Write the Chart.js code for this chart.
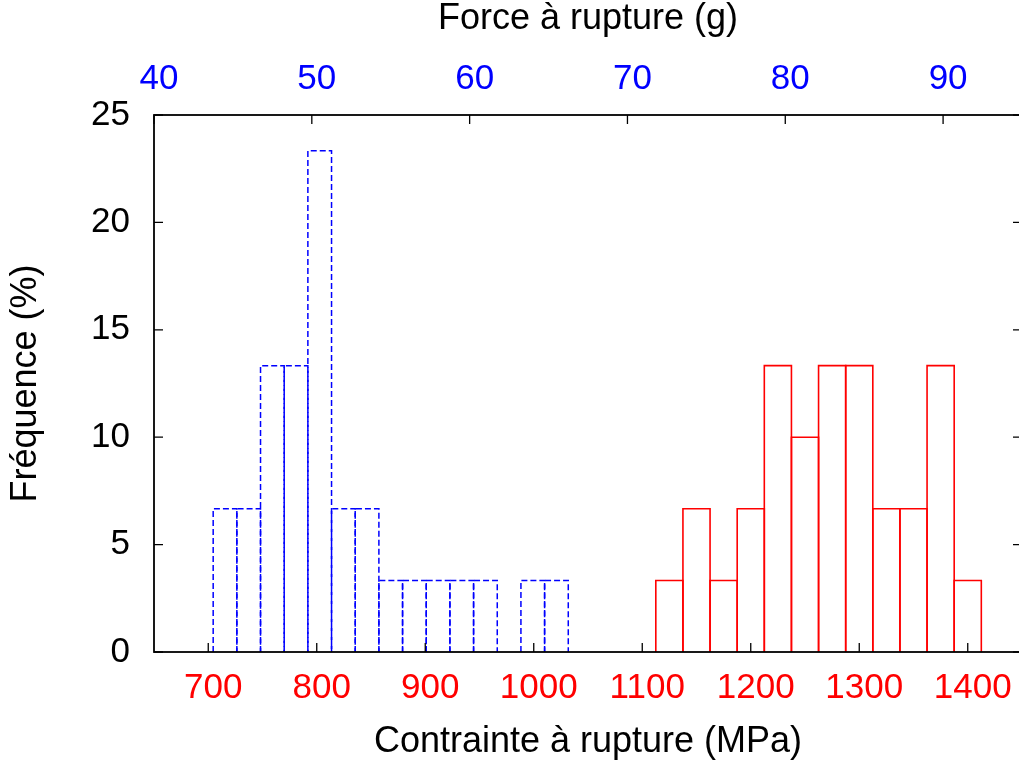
<!DOCTYPE html>
<html>
<head>
<meta charset="utf-8">
<script src="https://cdn.jsdelivr.net/npm/chart.js@4/dist/chart.umd.min.js"></script>
<style>
html,body{margin:0;padding:0;background:#fff;overflow:hidden;width:1019px;height:763px}
canvas{display:block}
</style>
</head>
<body>
<canvas id="c" width="1030" height="763"></canvas>
<script>
// Force à rupture (g) : centres des classes et fréquences (%)
const forceCenters = [44.5, 46, 47.5, 49, 50.5, 52, 53.5, 55, 56.5, 58, 59.5, 61, 62.5, 64, 65.5];
const forceFreq    = [6.67, 6.67, 13.33, 13.33, 23.33, 6.67, 6.67, 3.33, 3.33, 3.33, 3.33, 3.33, 0, 3.33, 3.33];

// Contrainte à rupture (MPa) : centres des classes et fréquences (%)
const stressCenters = [1125, 1150, 1175, 1200, 1225, 1250, 1275, 1300, 1325, 1350, 1375, 1400];
const stressFreq    = [3.33, 6.67, 3.33, 6.67, 13.33, 10, 13.33, 13.33, 6.67, 6.67, 13.33, 3.33];

// Graduations
const stressTickValues = [700, 800, 900, 1000, 1100, 1200, 1300, 1400];
const stressTickLabels = ['700', '800', '900', '1000', '1100', '1200', '1300', '1400'];
const forceTickValues  = [40, 50, 60, 70, 80, 90];
const forceTickLabels  = ['40', '50', '60', '70', '80', '90'];
const freqTickValues   = [0, 5, 10, 15, 20, 25];
const freqTickLabels   = ['0', '5', '10', '15', '20', '25'];

const FONT = "'Liberation Sans', Arial, Helvetica, sans-serif";

const outlinePlugin = {
  id: 'histOutline',
  afterDatasetsDraw(chart) {
    const ctx = chart.ctx;
    chart.data.datasets.forEach((ds, i) => {
      const meta = chart.getDatasetMeta(i);
      ctx.save();
      ctx.strokeStyle = ds.outlineColor;
      ctx.lineWidth = ds.outlineWidth;
      ctx.setLineDash(ds.outlineDash);
      meta.data.forEach((bar, j) => {
        if (!ds.data[j].y) return;
        const p = bar.getProps(['x', 'y', 'base', 'width'], true);
        const l = p.x - p.width / 2, r = p.x + p.width / 2;
        ctx.beginPath();
        ctx.moveTo(l, p.base);
        ctx.lineTo(l, p.y);
        ctx.lineTo(r, p.y);
        ctx.lineTo(r, p.base);
        ctx.stroke();
      });
      ctx.restore();
    });
  }
};

const framePlugin = {
  id: 'frame',
  afterDraw(chart) {
    const {ctx, chartArea: a, scales} = chart;
    const T = 9;
    ctx.save();
    ctx.setLineDash([]);
    ctx.strokeStyle = '#000';
    ctx.lineWidth = 1.3;
    ctx.beginPath();
    scales.y.ticks.forEach(t => {
      const yy = scales.y.getPixelForValue(t.value);
      ctx.moveTo(a.left, yy); ctx.lineTo(a.left + T, yy);
      ctx.moveTo(a.right, yy); ctx.lineTo(a.right - T, yy);
    });
    scales.x.ticks.forEach(t => {
      const xx = scales.x.getPixelForValue(t.value);
      ctx.moveTo(xx, a.bottom); ctx.lineTo(xx, a.bottom - T);
    });
    scales.x2.ticks.forEach(t => {
      const xx = scales.x2.getPixelForValue(t.value);
      ctx.moveTo(xx, a.top); ctx.lineTo(xx, a.top + T);
    });
    ctx.stroke();
    ctx.lineWidth = 1.8;
    ctx.strokeRect(a.left, a.top, a.right - a.left, a.bottom - a.top);
    ctx.restore();
  }
};

const tickFont = {family: FONT, size: 35};
const titleFont = {family: FONT, size: 36, lineHeight: 1.07};

new Chart(document.getElementById('c'), {
  type: 'bar',
  data: {
    datasets: [
      {
        label: 'Force à rupture (g)',
        xAxisID: 'x2', yAxisID: 'y',
        data: forceCenters.map((x, i) => ({x: x, y: forceFreq[i]})),
        backgroundColor: 'rgba(0,0,0,0)', borderWidth: 0,
        grouped: false, barPercentage: 1, categoryPercentage: 1,
        outlineColor: '#0000ff', outlineWidth: 1.5, outlineDash: [6, 3]
      },
      {
        label: 'Contrainte à rupture (MPa)',
        xAxisID: 'x', yAxisID: 'y',
        data: stressCenters.map((x, i) => ({x: x, y: stressFreq[i]})),
        backgroundColor: 'rgba(0,0,0,0)', borderWidth: 0,
        grouped: false, barPercentage: 1, categoryPercentage: 1,
        outlineColor: '#ff0000', outlineWidth: 1.6, outlineDash: []
      }
    ]
  },
  options: {
    responsive: false,
    animation: false,
    devicePixelRatio: 1,
    layout: {padding: {left: 0, top: 0, bottom: 0, right: 8}},
    plugins: {legend: {display: false}, tooltip: {enabled: false}},
    scales: {
      x: {
        type: 'linear', position: 'bottom', min: 650, max: 1450, offset: false,
        grid: {display: false, drawTicks: false}, border: {display: false},
        afterBuildTicks(s) { s.ticks = stressTickValues.map(v => ({value: v})); },
        ticks: {
          autoSkip: false, maxRotation: 0, minRotation: 0, padding: 15, labelOffset: 5,
          color: '#ff0000', font: tickFont,
          callback: (v) => stressTickLabels[stressTickValues.indexOf(v)]
        },
        title: {display: true, text: 'Contrainte à rupture (MPa)', color: '#000', font: titleFont, padding: {top: 0, bottom: 1.2}},
        afterFit(s) { s.height = 111; }
      },
      x2: {
        type: 'linear', position: 'top', min: 40, max: 95, offset: false,
        grid: {display: false, drawTicks: false}, border: {display: false},
        afterBuildTicks(s) { s.ticks = forceTickValues.map(v => ({value: v})); },
        ticks: {
          autoSkip: false, maxRotation: 0, minRotation: 0, padding: 15, labelOffset: 5,
          color: '#0000ff', font: tickFont,
          callback: (v) => forceTickLabels[forceTickValues.indexOf(v)]
        },
        title: {display: true, text: 'Force à rupture (g)', color: '#000', font: titleFont, padding: {top: 0, bottom: 0}},
        afterFit(s) { s.height = 115; }
      },
      y: {
        type: 'linear', position: 'left', min: 0, max: 25,
        grid: {display: false, drawTicks: false}, border: {display: false},
        afterBuildTicks(s) { s.ticks = freqTickValues.map(v => ({value: v})); },
        ticks: {
          autoSkip: false, padding: 24, color: '#000', font: tickFont,
          callback: (v) => freqTickLabels[freqTickValues.indexOf(v)]
        },
        title: {display: true, text: 'Fréquence (%)', color: '#000', font: titleFont, padding: {top: 6.6, bottom: 0}},
        afterFit(s) { s.width = 154; }
      }
    }
  },
  plugins: [outlinePlugin, framePlugin]
});
</script>
</body>
</html>
